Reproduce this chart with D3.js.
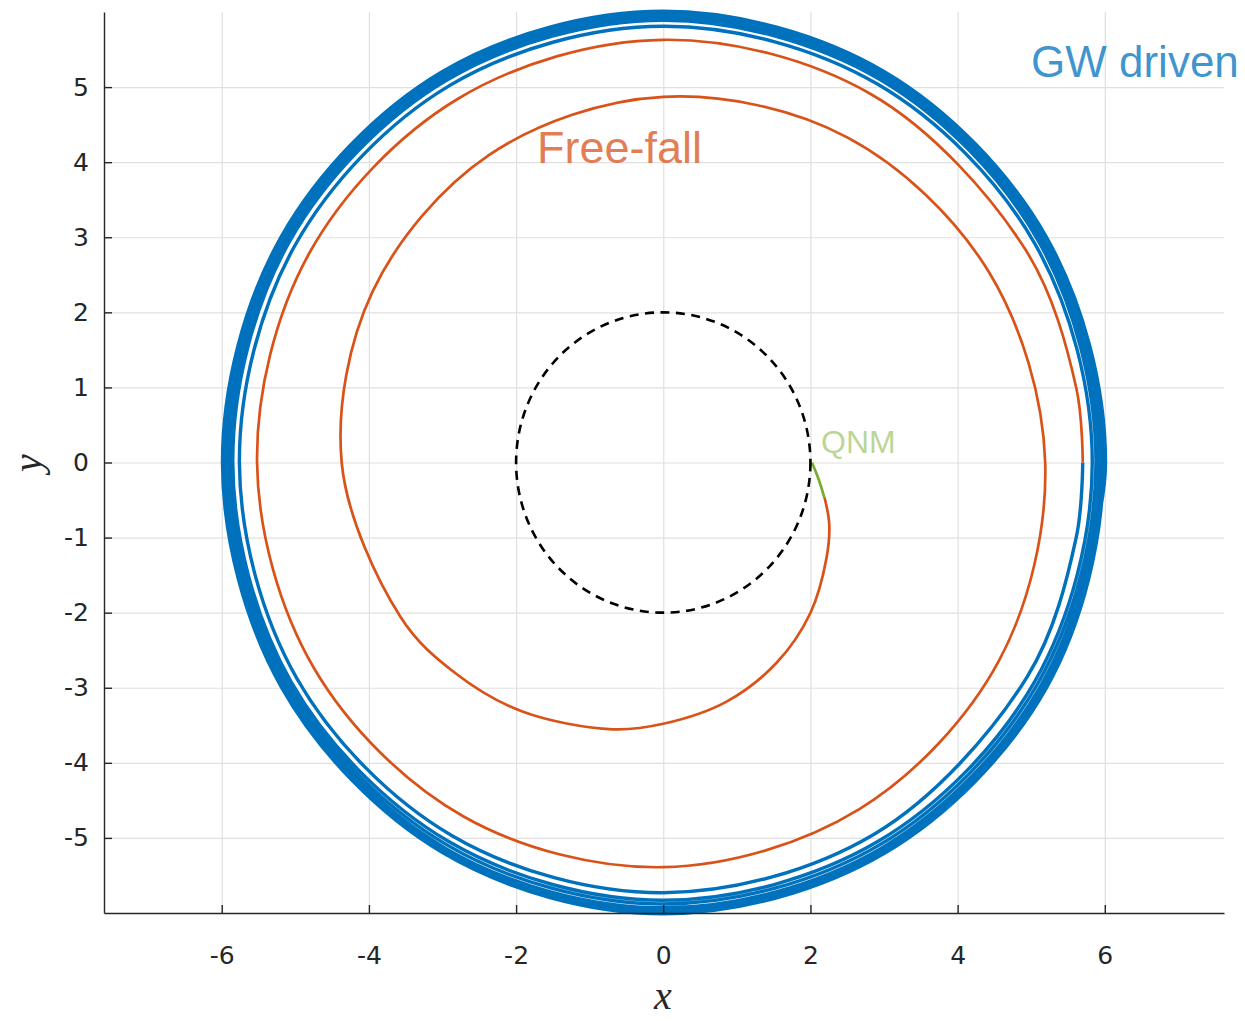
<!DOCTYPE html>
<html>
<head>
<meta charset="utf-8">
<script src="https://cdn.jsdelivr.net/npm/d3@7"></script>
<style>
  body { margin: 0; background: #fff; }
  .grid line { stroke: #e0e0e0; stroke-width: 1.2; }
  .grid path { display: none; }
  .axis path, .axis line { stroke: #262626; stroke-width: 1.4; }
  .axis text { font-family: "DejaVu Sans", sans-serif; font-size: 25px; fill: #262626; }
</style>
</head>
<body>
<div class="chart"></div>
<script>
var svgWidth = 1245;
var svgHeight = 1021;

// tick values
var xTicks = [-6, -4, -2, 0, 2, 4, 6];
var yTicks = [-5, -4, -3, -2, -1, 0, 1, 2, 3, 4, 5];

// GW driven orbit: radius read every 30 deg, one list per turn (counter-clockwise from +x)
var thetaDeg = [0, 30, 60, 90, 120, 150, 180, 210, 240, 270, 300, 330];
var gwHeadTheta = [-30];
var gwHeadR = [6.01];
var gwLoop1 = [6.01, 6.01, 6.01, 6.01, 6.01, 6.00, 5.99, 5.99, 6.00, 6.01, 6.01, 6.01];
var gwLoop2 = [5.98, 5.98, 5.98, 5.98, 5.98, 5.97, 5.96, 5.96, 5.97, 5.97, 5.97, 5.97];
var gwLoop3 = [5.95, 5.95, 5.95, 5.95, 5.94, 5.93, 5.92, 5.92, 5.93, 5.93, 5.93, 5.93];
var gwLoop4 = [5.92, 5.92, 5.92, 5.92, 5.91, 5.90, 5.89, 5.88, 5.88, 5.88, 5.88, 5.88];
var gwLoop5 = [5.88, 5.89, 5.89, 5.89, 5.88, 5.87, 5.85, 5.84, 5.83, 5.83, 5.83, 5.83];
var gwLoop6 = [5.83, 5.83, 5.82, 5.81, 5.80, 5.78, 5.76, 5.75, 5.74, 5.73, 5.72, 5.71];
// last readings before the hand-over to free fall
var gwTailTheta = [350, 360];
var gwTailR = [5.70, 5.70];

// free-fall plunge: angle (deg, accumulated) and radius
var ffTheta = [0, 10, 30, 60, 90, 120, 150, 180, 210, 240, 270, 300, 330, 360, 390, 420, 450, 480, 510, 540, 570, 585, 600, 619, 630, 645, 660, 675, 690, 700, 708];
var ffR = [5.70, 5.70, 5.68, 5.66, 5.63, 5.59, 5.56, 5.52, 5.48, 5.44, 5.39, 5.33, 5.27, 5.19, 5.10, 5.00, 4.87, 4.73, 4.56, 4.37, 4.12, 3.98, 3.83, 3.62, 3.48, 3.30, 3.08, 2.83, 2.56, 2.40, 2.24];

// QNM piece (x, y)
var qnmX = [2.19, 2.11, 2.02];
var qnmY = [-0.47, -0.22, 0.00];

// horizon radius (dashed)
var horizonR = 2;

var svg = d3.select(".chart")
  .append("svg")
  .attr("width", svgWidth)
  .attr("height", svgHeight);

var x = d3.scaleLinear().domain([-7.6, 7.62]).range([104, 1224]);
var y = d3.scaleLinear().domain([-6, 6]).range([913, 12]);

function polar(deg, r) {
  var a = deg * Math.PI / 180;
  return [r * Math.cos(a), r * Math.sin(a)];
}

// grid
svg.append("g")
  .attr("class", "grid")
  .attr("transform", "translate(0,913)")
  .call(d3.axisBottom(x).tickValues(xTicks).tickSize(-901).tickFormat(""));

svg.append("g")
  .attr("class", "grid")
  .attr("transform", "translate(104,0)")
  .call(d3.axisLeft(y).tickValues(yTicks).tickSize(-1120).tickFormat(""));

// labels on the plot (semi transparent, grid shows through)
svg.append("text")
  .attr("x", 1031).attr("y", 77)
  .attr("font-family", "Liberation Sans, Arial, sans-serif")
  .attr("font-size", 44)
  .attr("fill", "#0072BD").attr("fill-opacity", 0.75)
  .text("GW driven");

svg.append("text")
  .attr("x", 537).attr("y", 163)
  .attr("font-family", "Liberation Sans, Arial, sans-serif")
  .attr("font-size", 45)
  .attr("fill", "#D95319").attr("fill-opacity", 0.75)
  .text("Free-fall");

svg.append("text")
  .attr("x", 821).attr("y", 453)
  .attr("font-family", "Liberation Sans, Arial, sans-serif")
  .attr("font-size", 32)
  .attr("fill", "#77AC30").attr("fill-opacity", 0.5)
  .text("QNM");

var line = d3.line()
  .x(function(d) { return x(d[0]); })
  .y(function(d) { return y(d[1]); })
  .curve(d3.curveCatmullRom.alpha(0.5));

// blue track
var gwPts = [];
gwHeadTheta.forEach(function(t, i) { gwPts.push(polar(t, gwHeadR[i])); });
[gwLoop1, gwLoop2, gwLoop3, gwLoop4, gwLoop5, gwLoop6].forEach(function(loop) {
  loop.forEach(function(r, j) {
    gwPts.push(polar(thetaDeg[j], r));
  });
});
gwTailTheta.forEach(function(t, i) { gwPts.push(polar(t, gwTailR[i])); });

svg.append("path")
  .datum(gwPts)
  .attr("d", line)
  .attr("fill", "none")
  .attr("stroke", "#0072BD")
  .attr("stroke-width", 3.4);

// orange plunge
var ffPts = ffTheta.map(function(t, i) { return polar(t, ffR[i]); });
svg.append("path")
  .datum(ffPts)
  .attr("d", line)
  .attr("fill", "none")
  .attr("stroke", "#D95319")
  .attr("stroke-width", 2.7);

var qnmPts = qnmX.map(function(v, i) { return [v, qnmY[i]]; });
svg.append("path")
  .datum(qnmPts)
  .attr("d", line)
  .attr("fill", "none")
  .attr("stroke", "#77AC30")
  .attr("stroke-width", 2.7);

// horizon
svg.append("ellipse")
  .attr("cx", x(0))
  .attr("cy", y(0))
  .attr("rx", x(horizonR) - x(0))
  .attr("ry", y(0) - y(horizonR))
  .attr("fill", "none")
  .attr("stroke", "#000")
  .attr("stroke-width", 2.6)
  .attr("stroke-dasharray", "9,6.5");

// axes
svg.append("g")
  .attr("class", "axis")
  .attr("transform", "translate(0,913)")
  .call(d3.axisBottom(x).tickValues(xTicks).tickSizeInner(-8).tickSizeOuter(0)
    .tickPadding(33).tickFormat(function(d) { return String(d); }));

svg.append("g")
  .attr("class", "axis")
  .attr("transform", "translate(104,0)")
  .call(d3.axisLeft(y).tickValues(yTicks).tickSizeInner(-8).tickSizeOuter(0)
    .tickPadding(15).tickFormat(function(d) { return String(d); }));

svg.append("text")
  .attr("x", 663).attr("y", 1009)
  .attr("text-anchor", "middle")
  .attr("font-family", "Liberation Serif, serif")
  .attr("font-style", "italic")
  .attr("font-size", 40)
  .attr("fill", "#262626")
  .text("x");

svg.append("text")
  .attr("transform", "translate(41,463) rotate(-90)")
  .attr("text-anchor", "middle")
  .attr("font-family", "Liberation Serif, serif")
  .attr("font-style", "italic")
  .attr("font-size", 40)
  .attr("fill", "#262626")
  .text("y");
</script>
</body>
</html>
